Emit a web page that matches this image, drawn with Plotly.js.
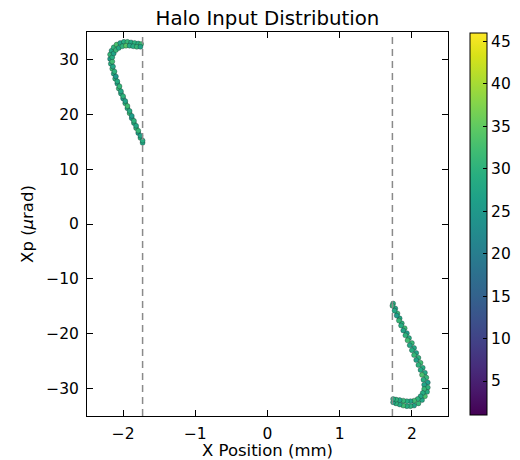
<!DOCTYPE html>
<html>
<head>
<meta charset="utf-8">
<script src="https://cdn.plot.ly/plotly-3.0.1.min.js"></script>
<style>html,body{margin:0;padding:0;background:#fff;}#chart{width:520px;height:460px;}</style>
</head>
<body>
<div id="chart"></div>
<script>
// Halo particles, left lobe (x in mm, xp in µrad)
const xLeft = [-1.73,-1.76,-1.79,-1.82,-1.85,-1.88,-1.91,-1.94,-1.97,-2.00,-2.03,-2.06,-2.08,-2.11,-2.13,-2.15,-2.17,-2.18,-2.18,-2.16,-2.13,-2.09,-2.04,-1.99,-1.94,-1.89,-1.84,-1.79,-1.75,
  -1.73,-1.76,-1.79,-1.82,-1.85,-1.88,-1.91,-1.94,-1.97,-2.00,-2.03,-2.05,-2.08,-2.10,-2.12,-2.14,-2.15,-2.15,-2.13,-2.10,-2.06,-2.01,-1.96,-1.91,-1.86,-1.81,-1.76];
const xpLeft = [14.8,15.7,16.6,17.5,18.4,19.3,20.2,21.1,22.0,22.9,23.8,24.7,25.6,26.5,27.4,28.3,29.2,30.1,30.9,31.6,32.2,32.7,33.0,33.2,33.2,33.1,33.0,32.9,32.8,
  15.2,16.1,17.0,17.9,18.8,19.7,20.6,21.5,22.4,23.3,24.2,25.1,26.0,26.9,27.8,28.7,29.6,30.4,31.1,31.7,32.1,32.4,32.5,32.5,32.4,32.3,32.3];
const cLeft = [28,30,26,31,29,27,32,28,30,25,29,31,27,30,28,32,29,26,31,28,30,33,27,29,31,28,30,29,32,
  29,27,31,28,30,26,29,32,27,30,28,31,29,25,30,28,32,29,27,31,28,30,34,28,29,31,27];

// Halo particles, right lobe
const xRight = [1.74,1.77,1.80,1.83,1.86,1.90,1.93,1.96,2.00,2.03,2.06,2.09,2.12,2.15,2.18,2.20,2.22,2.22,2.21,2.18,2.14,2.09,2.03,1.98,1.93,1.88,1.83,1.78,1.74,
  1.73,1.76,1.79,1.82,1.85,1.88,1.91,1.94,1.97,2.00,2.03,2.06,2.09,2.12,2.14,2.16,2.17,2.17,2.15,2.12,2.08,2.03,1.98,1.93,1.88,1.83,1.78,1.74];
const xpRight = [-14.5,-15.4,-16.3,-17.2,-18.1,-19.0,-19.9,-20.8,-21.7,-22.6,-23.5,-24.4,-25.3,-26.2,-27.1,-28.0,-28.9,-29.8,-30.6,-31.4,-32.1,-32.7,-33.1,-33.2,-33.2,-33.1,-32.9,-32.7,-32.5,
  -14.9,-15.8,-16.7,-17.6,-18.5,-19.4,-20.3,-21.2,-22.1,-23.0,-23.9,-24.8,-25.7,-26.6,-27.5,-28.4,-29.3,-30.1,-30.8,-31.4,-31.9,-32.2,-32.3,-32.3,-32.2,-32.1,-32.0,-31.9];
const cRight = [29,27,31,28,30,32,26,29,31,28,27,30,32,29,28,31,26,30,29,33,28,31,27,30,29,32,28,30,27,
  30,28,26,31,29,27,30,32,28,29,31,27,30,28,33,29,27,31,29,28,30,32,27,29,31,28,30,29];

// Aperture cut positions (mm)
const cutX = [-1.73, 1.73];

// Axis ranges and ticks
const xRange = [-2.5, 2.5];
const yRange = [-35, 35];
const xTicks = [-2, -1, 0, 1, 2];
const yTicks = [-30, -20, -10, 0, 10, 20, 30];
const cTicks = [5, 10, 15, 20, 25, 30, 35, 40, 45];
const cRange = [1, 46];

const font = "DejaVu Sans, sans-serif";

const trace = {
  type: "scatter",
  mode: "markers",
  x: xLeft.concat(xRight),
  y: xpLeft.concat(xpRight),
  marker: {
    size: 5,
    color: cLeft.concat(cRight),
    colorscale: "Viridis",
    cmin: cRange[0],
    cmax: cRange[1],
    line: {width: 0.6, color: "rgba(20,40,40,0.55)"},
    colorbar: {
      x: 1.061, xanchor: "left", xpad: 0, ypad: 0,
      y: 0.5, yanchor: "middle", len: 0.995, lenmode: "fraction",
      thickness: 17, thicknessmode: "pixels",
      outlinewidth: 1, outlinecolor: "#000",
      ticks: "inside", ticklen: 4, tickcolor: "#000",
      tickvals: cTicks,
      tickfont: {family: font, size: 15.5, color: "#000"}
    }
  },
  hoverinfo: "x+y",
  showlegend: false
};

const shapes = cutX.map(v => ({
  type: "line", xref: "x", yref: "paper",
  x0: v, x1: v, y0: 0, y1: 1,
  line: {color: "#8a8a8a", width: 1.5, dash: "7px,5px"}
}));

const layout = {
  width: 520, height: 460,
  margin: {l: 87, r: 72, t: 32, b: 44, pad: 0, autoexpand: false},
  paper_bgcolor: "#fff", plot_bgcolor: "#fff",
  font: {family: font, size: 15.5, color: "#000"},
  title: {
    text: "Halo Input Distribution",
    font: {family: font, size: 19.8, color: "#000"},
    x: 0.5, xref: "paper", xanchor: "center",
    y: 0.96, yref: "container", yanchor: "middle"
  },
  xaxis: {
    range: xRange, tickvals: xTicks,
    showline: true, mirror: "ticks", linecolor: "#000", linewidth: 1,
    ticks: "inside", ticklen: 6, tickcolor: "#000",
    showgrid: false, zeroline: false,
    ticklabelstandoff: 3,
    tickfont: {family: font, size: 15.5},
    title: {text: "X Position (mm)", font: {family: font, size: 16.5}, standoff: 3},
    automargin: false
  },
  yaxis: {
    range: yRange, tickvals: yTicks,
    showline: true, mirror: "ticks", linecolor: "#000", linewidth: 1,
    ticks: "inside", ticklen: 6, tickcolor: "#000",
    showgrid: false, zeroline: false,
    ticklabelstandoff: 4,
    tickfont: {family: font, size: 15.5},
    title: {text: "Xp (<i>μ</i>rad)", font: {family: font, size: 16.5}, standoff: 8},
    automargin: false
  },
  shapes: shapes
};

Plotly.newPlot("chart", [trace], layout, {displayModeBar: false, staticPlot: true});
</script>
</body>
</html>
